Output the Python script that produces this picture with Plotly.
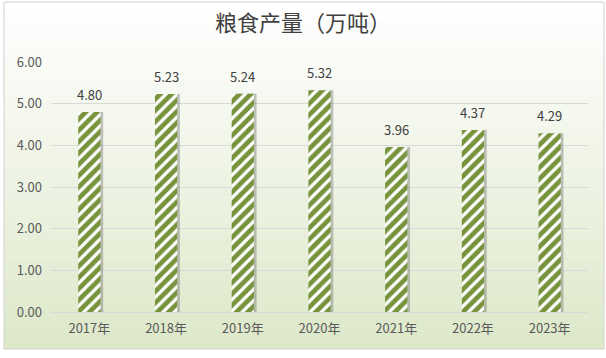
import plotly.graph_objects as go

categories = ["2017年", "2018年", "2019年", "2020年", "2021年", "2022年", "2023年"]
values = [4.80, 5.23, 5.24, 5.32, 3.96, 4.37, 4.29]
labels = ["4.80", "5.23", "5.24", "5.32", "3.96", "4.37", "4.29"]
title_text = "粮食产量（万吨）"

FONT = "Noto Sans CJK SC, Noto Sans, sans-serif"
L, R, T, B = 51, 18, 62, 46
W, H = 606, 358
pw, ph = W - L - R, H - T - B

def px_to_paper_x(px):
    return (px - L) / pw

def px_to_paper_y(py):
    return (H - B - py) / ph

fig = go.Figure()

# shadow
fig.add_trace(go.Bar(
    x=categories, y=values, width=0.29, offset=-0.145 + 0.035,
    marker=dict(color="rgba(90,90,90,0.35)", line=dict(width=0)),
    hoverinfo="skip", showlegend=False,
))
fig.add_trace(go.Bar(
    x=categories, y=values, width=0.29, offset=-0.145,
    marker=dict(
        color="#77933c",
        line=dict(width=0),
        pattern=dict(shape="/", fgcolor="#ffffff", bgcolor="#77933c",
                     size=8, solidity=0.4, fillmode="replace"),
    ),
    showlegend=False,
))

annotations = [
    dict(x=c, y=v, text=t, xref="x", yref="y", showarrow=False,
         yanchor="bottom", yshift=6,
         font=dict(family=FONT, size=13, color="#404040"))
    for c, v, t in zip(categories, values, labels)
]

# gradient background
shapes = []
x0 = px_to_paper_x(4)
x1 = px_to_paper_x(604)
top_px, bot_px = 2, 349
n = 60
c_top = (255, 255, 255)
c_bot = (221, 232, 201)
for i in range(n):
    f = i / (n - 1)
    y_a = top_px + (bot_px - top_px) * i / n
    y_b = top_px + (bot_px - top_px) * (i + 1) / n
    col = tuple(int(round(c_top[k] + (c_bot[k] - c_top[k]) * f)) for k in range(3))
    shapes.append(dict(type="rect", xref="paper", yref="paper",
                       x0=x0, x1=x1, y0=px_to_paper_y(y_b), y1=px_to_paper_y(y_a) + 0.001,
                       fillcolor="rgb(%d,%d,%d)" % col, line=dict(width=0), layer="below"))
shapes.append(dict(type="rect", xref="paper", yref="paper",
                   x0=x0, x1=x1, y0=px_to_paper_y(bot_px), y1=px_to_paper_y(top_px),
                   fillcolor="rgba(0,0,0,0)", line=dict(color="#d0d0d0", width=1), layer="above"))

fig.update_layout(
    width=W, height=H,
    margin=dict(l=L, r=R, t=T, b=B),
    paper_bgcolor="white", plot_bgcolor="rgba(0,0,0,0)",
    barmode="overlay",
    shapes=shapes,
    annotations=annotations,
    title=dict(text=title_text, x=0.5, xanchor="center", y=0.935, yanchor="middle",
               font=dict(family=FONT, size=22, color="#404040")),
    xaxis=dict(showgrid=False, showline=True, linecolor="#d9d9d9", linewidth=1,
               ticks="", ticklabelstandoff=4,
               tickfont=dict(family=FONT, size=13, color="#595959"),
               range=[-0.5, 6.5]),
    yaxis=dict(range=[0, 6], dtick=1, tickformat=".2f", showgrid=True,
               gridcolor="#d9d9d9", gridwidth=1, zeroline=False, showline=False,
               ticks="", ticklabelstandoff=8,
               tickfont=dict(family=FONT, size=13, color="#595959")),
    font=dict(family=FONT),
)

fig.write_html("out.html", config={"displayModeBar": False},
               post_script="document.body.style.margin='0';document.body.style.overflow='hidden';")
